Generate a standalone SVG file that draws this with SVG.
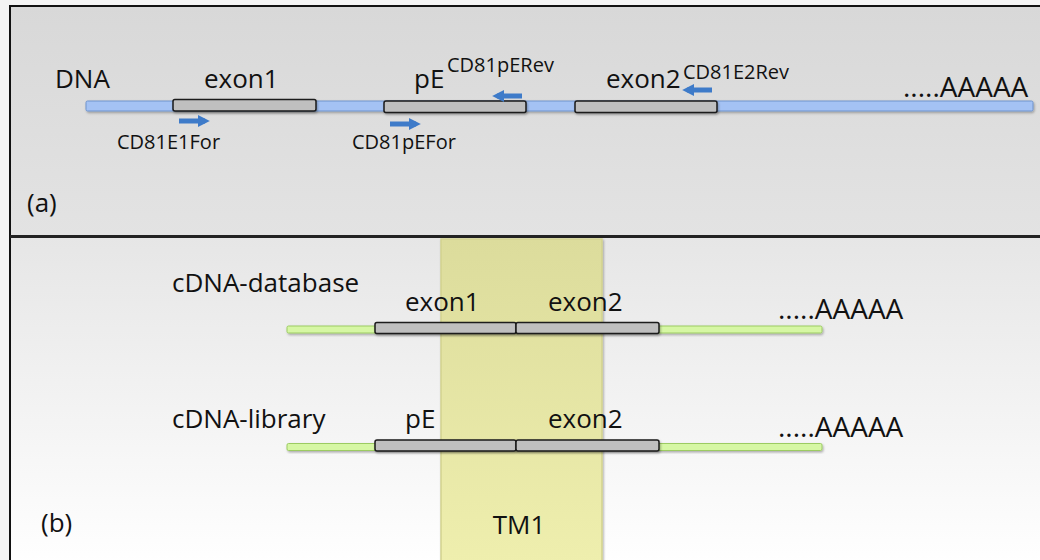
<svg xmlns="http://www.w3.org/2000/svg" width="1040" height="560" viewBox="0 0 1040 560">
<defs>
<linearGradient id="gTop" x1="0" y1="0" x2="0" y2="1"><stop offset="0" stop-color="#d8d8d8"/><stop offset="1" stop-color="#e3e3e3"/></linearGradient>
<linearGradient id="gBot" x1="0" y1="0" x2="0" y2="1"><stop offset="0" stop-color="#e6e6e6"/><stop offset="1" stop-color="#ffffff"/></linearGradient>
<linearGradient id="gTM" x1="0" y1="0" x2="0" y2="1"><stop offset="0" stop-color="#dcdc9c"/><stop offset="1" stop-color="#efefae"/></linearGradient>
<filter id="sh" x="-5%" y="-50%" width="110%" height="200%"><feDropShadow dx="1" dy="1.5" stdDeviation="1" flood-color="#000" flood-opacity="0.3"/></filter>
<marker id="ah" viewBox="0 0 10 10" refX="6" refY="5" markerWidth="2.4" markerHeight="2.4" orient="auto" markerUnits="strokeWidth"><path d="M0,0 L10,5 L0,10 z" fill="#3e7bc9"/></marker>
</defs>
<style>
.t{font-family:"Open Sans","Liberation Sans",sans-serif;fill:#111}
.big{font-size:26px}
.sm{font-size:20px}
.aa{font-size:28px}
.dna{fill:#a4c2f4;stroke:#6f93cc;stroke-width:1}
.cdna{fill:#d6f7a4;stroke:#9ccb62;stroke-width:1}
.exon{fill:#bfbfbf;stroke:#1a1a1a;stroke-width:1.5}
.pr{stroke:#3e7bc9;stroke-width:5;fill:none;marker-end:url(#ah)}
</style>
<rect x="0" y="0" width="1040" height="560" fill="#f4f4f4"/>
<g id="panel-a">
<rect x="10" y="6" width="1040" height="230" fill="url(#gTop)" stroke="#111" stroke-width="2"/>
<text class="t big" x="27" y="212">(a)</text>
</g>
<g id="panel-b">
<rect x="10" y="237" width="1040" height="330" fill="url(#gBot)" stroke="#111" stroke-width="2"/>
<line x1="10" y1="236.5" x2="1040" y2="236.5" stroke="#222" stroke-width="3"/>
<text class="t big" x="41" y="532">(b)</text>
</g>
<g id="tm1">
<rect x="441" y="239" width="161" height="330" fill="url(#gTM)" stroke="#d2d28e" stroke-width="1.5" filter="url(#sh)"/>
<text class="t big" x="519" y="534" text-anchor="middle">TM1</text>
</g>
<g id="dna">
<rect class="dna" x="86" y="101" width="947" height="10" rx="1.5" filter="url(#sh)"/>
<rect class="exon" x="173" y="99.5" width="143" height="11.5" rx="2" filter="url(#sh)"/>
<rect class="exon" x="384" y="101" width="142" height="11.5" rx="2" filter="url(#sh)"/>
<rect class="exon" x="575" y="101" width="142" height="11.5" rx="2" filter="url(#sh)"/>
<text class="t big" x="55" y="88">DNA</text>
<text class="t big" x="204" y="88">exon1</text>
<text class="t big" x="414" y="88">pE</text>
<text class="t big" x="606" y="88">exon2</text>
<text class="t aa" x="903" y="97">.....AAAAA</text>
</g>
<g id="primers">
<text class="t sm" x="447" y="72">CD81pERev</text>
<text class="t sm" x="683" y="79">CD81E2Rev</text>
<text class="t sm" x="117" y="149">CD81E1For</text>
<text class="t sm" x="352" y="149">CD81pEFor</text>
</g>
<g id="connectors">
<line class="pr" x1="179" y1="121" x2="205" y2="121"/>
<line class="pr" x1="390" y1="124" x2="416" y2="124"/>
<line class="pr" x1="522" y1="96" x2="497" y2="96"/>
<line class="pr" x1="712" y1="90" x2="687" y2="90"/>
</g>
<g id="cdna-database">
<text class="t big" x="172" y="292">cDNA-database</text>
<rect class="cdna" x="287" y="326" width="535" height="7" rx="1.5" filter="url(#sh)"/>
<rect class="exon" x="375" y="322.5" width="141" height="11" rx="2" filter="url(#sh)"/>
<rect class="exon" x="516" y="322.5" width="143" height="11" rx="2" filter="url(#sh)"/>
<text class="t big" x="405" y="311">exon1</text>
<text class="t big" x="548" y="311">exon2</text>
<text class="t aa" x="778" y="319">.....AAAAA</text>
</g>
<g id="cdna-library">
<text class="t big" x="172" y="428">cDNA-library</text>
<rect class="cdna" x="287" y="443.5" width="535" height="7" rx="1.5" filter="url(#sh)"/>
<rect class="exon" x="375" y="440" width="141" height="11" rx="2" filter="url(#sh)"/>
<rect class="exon" x="516" y="440" width="143" height="11" rx="2" filter="url(#sh)"/>
<text class="t big" x="405" y="428">pE</text>
<text class="t big" x="548" y="428">exon2</text>
<text class="t aa" x="778" y="437">.....AAAAA</text>
</g>
</svg>
